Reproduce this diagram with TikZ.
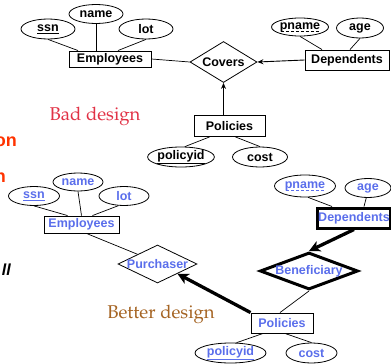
\documentclass[tikz,border=0pt]{standalone}
\usepackage[T1]{fontenc}
\usepackage{fontspec}
\setmainfont{Liberation Sans}
\newcommand\palfont{\fontencoding{T1}\fontfamily{ppl}\fontseries{m}\fontshape{n}\selectfont}
\newsavebox\dulbox
\newcommand\dashul[1]{\sbox\dulbox{#1}\rlap{\usebox\dulbox}\raisebox{-2.2pt}{\hbox to\wd\dulbox{\xleaders\hbox to 4.5pt{\hss\rule{3pt}{0.7pt}\hss}\hfill}}}
\usetikzlibrary{shapes.geometric,arrows.meta}
\definecolor{erblue}{RGB}{90,110,235}
\definecolor{badred}{RGB}{225,50,70}
\definecolor{betterbrown}{RGB}{165,100,35}
\definecolor{fragred}{RGB}{255,51,0}
\tikzset{
  lbl/.style={font=\fontsize{12.5}{14}\selectfont\bfseries},
  attr/.style={ellipse, draw, line width=0.8pt, inner sep=0pt, lbl},
  ent/.style={rectangle, draw, line width=0.9pt, inner sep=0pt, lbl},
  rel/.style={diamond, draw, line width=0.8pt, inner sep=0pt},
  thin/.style={line width=0.7pt},
  thickarrow/.style={line width=3.3pt, -{Stealth[length=11pt,width=11pt,inset=3pt]}},
  smallarrow/.style={line width=0.9pt, -{Stealth[length=6pt,width=5pt]}},
  bluet/.style={text=erblue},
}
\begin{document}
\begin{tikzpicture}[x=1pt,y=-1pt]
\useasboundingbox (0,0) rectangle (391,364);

% ---------- Bad design ----------
\node[attr, minimum width=54, minimum height=20] (ssn1) at (48,29) {\underline{ssn}};
\node[attr, minimum width=54, minimum height=19] (name1) at (96,14) {name};
\node[attr, minimum width=54, minimum height=20] (lot1) at (146,29) {lot};
\node[ent, minimum width=82, minimum height=16] (emp1) at (110,59) {Employees};
\node[rel, minimum width=67, minimum height=41] (cov) at (223.5,62) {};
\node[lbl] (covt) at (cov) {Covers};
\node[ent, minimum width=84, minimum height=20] (dep1) at (347,60) {Dependents};
\node[attr, minimum width=55, minimum height=18] (pname1) at (300,27) {\dashul{pname}};
\node[attr, minimum width=47, minimum height=20] (age1) at (360,28) {age};
\node[ent, minimum width=71, minimum height=21] (pol1) at (229.5,126) {Policies};
\node[attr, minimum width=66, minimum height=20] (pid1) at (181,157) {\underline{policyid}};
\node[attr, minimum width=55, minimum height=20] (cost1) at (260,157) {cost};

\draw[thin] (ssn1.south) -- ([xshift=-32pt]emp1.north);
\draw[thin] (name1.south) -- ([xshift=-14pt]emp1.north);
\draw[thin] (lot1.south) -- ([xshift=8pt]emp1.north);
\draw[thin] (emp1.east) -- (cov.west);
\draw[smallarrow] (dep1.west) -- (cov.east);
\draw[smallarrow] (cov.south |- pol1.north) -- (cov.south);
\draw[thin] (pname1.south) -- ([xshift=-25pt]dep1.north);
\draw[thin] (age1.south) -- ([xshift=3pt]dep1.north);
\draw[thin] ([xshift=-20pt]pol1.south) -- (pid1.70);
\draw[thin] ([xshift=6pt]pol1.south) -- (cost1.north);

\node[font=\palfont\fontsize{18.5}{20}\selectfont, text=badred] (bad) at (95,116) {Bad design};

% ---------- fragments at the left edge ----------
\node[font=\fontsize{18}{20}\selectfont\bfseries, text=fragred, anchor=base east, inner sep=0pt] (fragA) at (17,146) {on};
\node[font=\fontsize{18}{20}\selectfont\bfseries, text=fragred, anchor=base east, inner sep=0pt] (fragB) at (6,182) {n};
\node[font=\fontsize{16}{18}\selectfont\bfseries\itshape, anchor=base east, inner sep=0pt] (fragC) at (11,275) {ll};

% ---------- Better design ----------
\node[attr, bluet, minimum width=51, minimum height=19] (ssn2) at (34,196) {\underline{ssn}};
\node[attr, bluet, minimum width=50, minimum height=18] (name2) at (78,182) {name};
\node[attr, bluet, minimum width=50, minimum height=19] (lot2) at (124,196) {lot};
\node[ent, bluet, minimum width=75, minimum height=17] (emp2) at (81.5,224.5) {Employees};
\node[rel, minimum width=79, minimum height=38] (pur) at (157.5,264) {};
\node[lbl, bluet] (purt) at (pur) {Purchaser};
\node[rel, line width=3pt, minimum width=98, minimum height=37] (ben) at (309,271) {};
\node[lbl, bluet] (bent) at (ben) {Beneficiary};
\node[ent, bluet, line width=3pt, minimum width=73, minimum height=20] (dep2) at (354,218) {Dependents};
\node[attr, bluet, minimum width=61, minimum height=22] (pname2) at (305,186) {\dashul{pname}};
\node[attr, bluet, minimum width=46, minimum height=19] (age2) at (368,188) {age};
\node[ent, bluet, minimum width=62, minimum height=20] (pol2) at (282,323) {Policies};
\node[attr, bluet, minimum width=71, minimum height=20] (pid2) at (230.5,353) {\underline{policyid}};
\node[attr, bluet, minimum width=51, minimum height=20] (cost2) at (311.5,353) {cost};

\draw[thin] (ssn2.south) -- ([xshift=-14pt]emp2.north);
\draw[thin] (name2.south) -- (emp2.north);
\draw[thin] (lot2.-120) -- ([xshift=11pt]emp2.north);
\draw[thin] ([xshift=5pt]emp2.south) -- (pur.north west);
\draw[thickarrow] (pol2.north west) -- (pur.south east);
\draw[thickarrow] (dep2.south) -- (ben.north);
\draw[thin] (ben.south) -- ([xshift=-2pt]pol2.north);
\draw[thin] ([xshift=-19pt]pol2.south) -- (pid2.60);
\draw[thin] ([xshift=3pt]pol2.south) -- (cost2.north);
\draw[thin] (pname2.-75) -- ([xshift=-22pt]dep2.north);
\draw[thin] (age2.-100) -- ([xshift=10pt]dep2.north);

\node[font=\palfont\fontsize{18.5}{20}\selectfont, text=betterbrown] (better) at (161,314) {Better design};
\end{tikzpicture}
\end{document}
